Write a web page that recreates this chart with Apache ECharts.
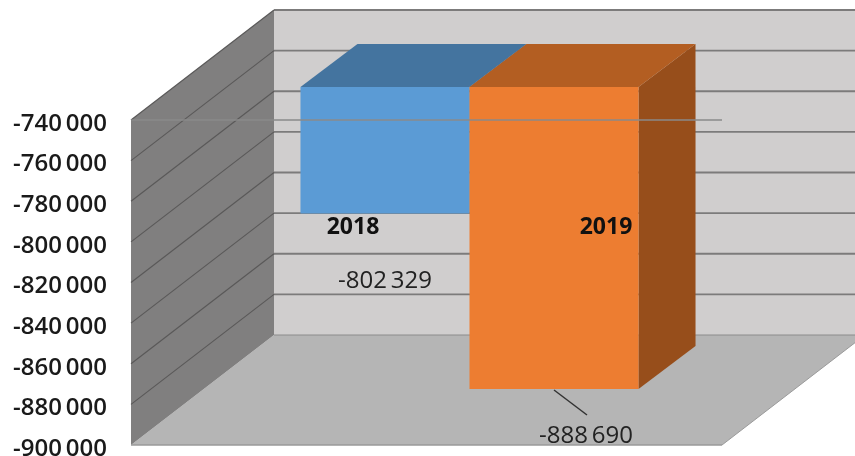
<!DOCTYPE html>
<html>
<head>
<meta charset="utf-8">
<style>html,body{margin:0;padding:0;background:#fff}#c{width:855px;height:456px}</style>
<script src="https://cdn.jsdelivr.net/npm/echarts@6/dist/echarts.min.js"></script>
</head>
<body>
<div id="c"></div>
<script>
const categories = ['2018', '2019'];
const values = [-802329, -888690];
const yMin = -900000;
const yMax = -740000;
const yStep = 20000;
const yTicks = [-740000, -760000, -780000, -800000, -820000, -840000, -860000, -880000, -900000];
const band = [''];

const DEPTH = [143, -110];
const BAR_NEAR = [43, -33];
const BAR_DEEP = [57, -43];
const BAR_RATIO = 0.286;
const FRONT = ['#5b9bd5', '#ed7d31'];
const TOP = ['#44749f', '#b35e22'];
const SIDE = ['#44749f', '#974e1b'];
const CAT_LABEL = [[-32, 14], [52, 14]];
const VAL_LABEL = [[0, 68], [32, 47]];
const LABEL_FONT = 'Open Sans';

const fmt = v => {
  const s = String(Math.abs(v));
  return (v < 0 ? '-' : '') + s.slice(0, -3) + '\u2009' + s.slice(-3);
};
const poly = (points, fill, z2) => ({type: 'polygon', z2, shape: {points}, style: {fill, stroke: null}});
const seg = (a, b, stroke, lineWidth, z2) => ({type: 'line', z2, shape: {x1: a[0], y1: a[1], x2: b[0], y2: b[1]}, style: {stroke, lineWidth}});
const off = (p, d) => [p[0] + d[0], p[1] + d[1]];

function wallRender(params, api) {
  const tl = api.coord([0, yMax]);
  const bl = api.coord([0, yMin]);
  const w = api.size([1, 0])[0];
  const x0 = tl[0] - w / 2;
  const a = [x0, tl[1]], b = [x0, bl[1]], c = [x0 + w, bl[1]];
  return {type: 'group', children: [
    poly([off(a, DEPTH), [c[0] + DEPTH[0], a[1] + DEPTH[1]], off(c, DEPTH), off(b, DEPTH)], '#d0cece', 1),
    poly([b, off(b, DEPTH), off(c, DEPTH), c], '#b5b5b5', 2),
    poly([a, off(a, DEPTH), off(b, DEPTH), b], '#807f7f', 3)
  ]};
}
function gridRender(params, api) {
  const v = api.value(1);
  const p = api.coord([0, v]);
  const w = api.size([1, 0])[0];
  const x0 = p[0] - w / 2;
  const l = [x0, p[1]];
  const back = off(l, DEPTH);
  return {type: 'group', children: [
    seg(back, [x0 + w + DEPTH[0], back[1]], '#7c7b7b', 1.8, 1),
    seg(l, back, '#5a5959', 1.2, 2)
  ]};
}
function makeBarRender(i) {
  return function (params, api) {
    const v = api.value(1);
    const top0 = api.coord([0, yMax]);
    const bot0 = api.coord([0, v]);
    const w = api.size([1, 0])[0] * BAR_RATIO;
    const x = top0[0] + (i - 1) * w + BAR_NEAR[0];
    const yT = top0[1] + BAR_NEAR[1];
    const yB = bot0[1] + BAR_NEAR[1];
    const A = [x, yT], B = [x + w, yT], C = [x + w, yB], D = [x, yB];
    return {type: 'group', children: [
      poly([B, off(B, BAR_DEEP), off(C, BAR_DEEP), C], SIDE[i], 1),
      poly([A, off(A, BAR_DEEP), off(B, BAR_DEEP), B], TOP[i], 2),
      poly([A, B, C, D], FRONT[i], 3)
    ]};
  };
}
function frontLineRender(params, api) {
  const p = api.coord([0, yMax]);
  const w = api.size([1, 0])[0];
  return seg([p[0] - w / 2, p[1]], [p[0] + w / 2, p[1]], '#8a8a8a', 1.5, 1);
}
function floorEdgeRender(params, api) {
  const p = api.coord([0, yMin]);
  const w = api.size([1, 0])[0];
  const r = [p[0] + w / 2, p[1]];
  return {type: 'group', children: [
    seg([p[0] - w / 2, p[1]], r, '#9a9a9a', 1.5, 1),
    seg(r, off(r, DEPTH), '#9a9a9a', 1, 1),
    seg(off([p[0] - w / 2, p[1]], DEPTH), off(r, DEPTH), '#8c8c8c', 1.2, 1)
  ]};
}
function makeLabelRender(i) {
  return function (params, api) {
    const v = api.value(1);
    const top0 = api.coord([0, yMax]);
    const bot0 = api.coord([0, v]);
    const w = api.size([1, 0])[0] * BAR_RATIO;
    const cx = top0[0] + (i - 1) * w + BAR_NEAR[0] + w / 2;
    const yB = bot0[1] + BAR_NEAR[1];
    const blueBottom = api.coord([0, values[0]])[1] + BAR_NEAR[1];
    const kids = [
      {type: 'text', style: {text: categories[i], x: cx + CAT_LABEL[i][0], y: blueBottom + CAT_LABEL[i][1], align: 'center', verticalAlign: 'middle', fill: '#111', font: 'bold 23px "' + LABEL_FONT + '"'}},
      {type: 'text', style: {text: fmt(v), x: cx + VAL_LABEL[i][0], y: yB + VAL_LABEL[i][1], align: 'center', verticalAlign: 'middle', fill: '#222', font: '24px "' + LABEL_FONT + '"'}}
    ];
    if (i === 1) kids.push(seg([cx, yB + 1], [cx + 33, yB + 26], '#333', 1.5, 1));
    return {type: 'group', children: kids};
  };
}
const custom = (name, renderItem, data, z) => ({
  name, type: 'custom', renderItem, data, z, clip: false, silent: true,
  encode: {x: 0, y: 1}
});

const chart = echarts.init(document.getElementById('c'), null, {renderer: 'canvas'});
chart.setOption({
  animation: false,
  backgroundColor: '#ffffff',
  grid: {left: 131, top: 120, width: 591, height: 325, containLabel: false, outerBoundsMode: 'none'},
  xAxis: {type: 'category', data: band, axisLine: {show: false}, axisTick: {show: false}, axisLabel: {show: false}, splitLine: {show: false}},
  yAxis: {
    type: 'value', min: yMin, max: yMax, interval: yStep,
    axisLine: {show: false}, axisTick: {show: false}, splitLine: {show: false},
    axisLabel: {
      margin: 24, color: '#1a1a1a', fontFamily: LABEL_FONT, fontSize: 24, fontWeight: 600,
      verticalAlign: 'top', lineHeight: 8,
      formatter: v => fmt(v), showMinLabel: true, showMaxLabel: true
    }
  },
  series: [
    custom('walls', wallRender, [[0, yMax]], 1),
    custom('grid', gridRender, yTicks.slice(0, -1).map(v => [0, v]), 2),
    custom('floor edge', floorEdgeRender, [[0, yMin]], 3),
    custom(categories[0], makeBarRender(0), [[0, values[0]]], 4),
    custom(categories[1], makeBarRender(1), [[0, values[1]]], 5),
    custom('front line', frontLineRender, [[0, yMax]], 6),
    custom('labels ' + categories[0], makeLabelRender(0), [[0, values[0]]], 7),
    custom('labels ' + categories[1], makeLabelRender(1), [[0, values[1]]], 7)
  ]
});
</script>
</body>
</html>
